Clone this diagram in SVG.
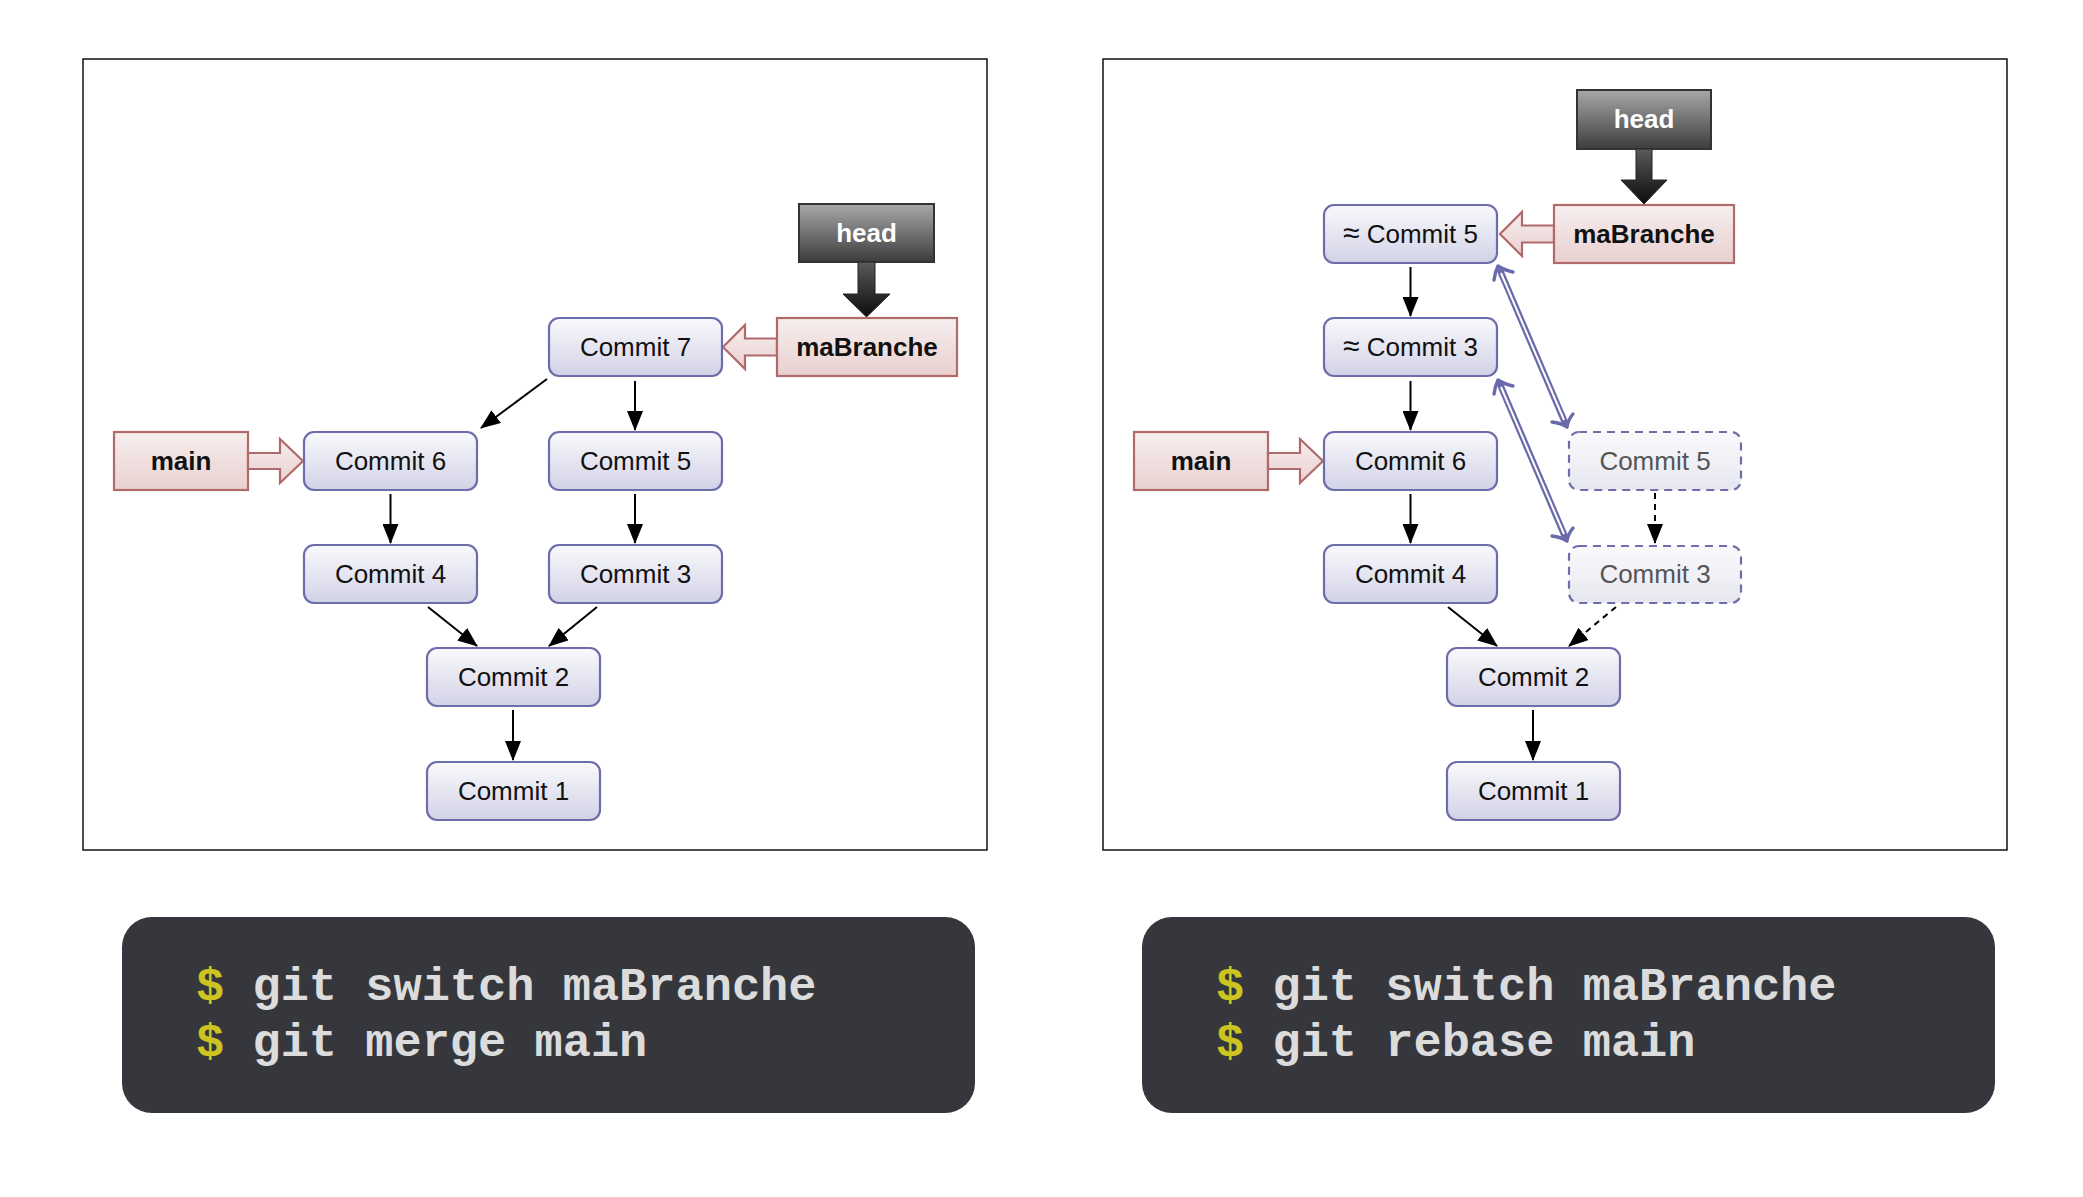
<svg xmlns="http://www.w3.org/2000/svg" width="2083" height="1197" viewBox="0 0 2083 1197">
<defs>
<linearGradient id="gCommit" x1="0" y1="0" x2="0" y2="1"><stop offset="0" stop-color="#f9f9fc"/><stop offset="1" stop-color="#d2d2e7"/></linearGradient>
<linearGradient id="gGhost" x1="0" y1="0" x2="0" y2="1"><stop offset="0" stop-color="#fafafc"/><stop offset="1" stop-color="#e6e6ef"/></linearGradient>
<linearGradient id="gBranch" x1="0" y1="0" x2="0" y2="1"><stop offset="0" stop-color="#f7eeee"/><stop offset="1" stop-color="#e9d0d0"/></linearGradient>
<linearGradient id="gHead" x1="0" y1="0" x2="0" y2="1"><stop offset="0" stop-color="#a8a8a8"/><stop offset="1" stop-color="#3c3c3c"/></linearGradient>
<linearGradient id="gHeadArrow" x1="0" y1="0" x2="0" y2="1"><stop offset="0" stop-color="#5a5a5a"/><stop offset="1" stop-color="#0c0c0c"/></linearGradient>
<marker id="arr" markerUnits="userSpaceOnUse" markerWidth="20" markerHeight="16" refX="19" refY="8" orient="auto"><path d="M0,0 L20,8 L0,16 z" fill="#000"/></marker>
<style>
.frame{fill:#fff;stroke:#000;stroke-width:1.4}
.commit{fill:url(#gCommit);stroke:#6d6dab;stroke-width:2.2}
.ghost{fill:url(#gGhost);stroke:#6d6dab;stroke-width:2.2;stroke-dasharray:8 6}
.branch{fill:url(#gBranch);stroke:#b06a6a;stroke-width:2.2}
.headbox{fill:url(#gHead);stroke:#333;stroke-width:2}
.harrow{fill:url(#gHeadArrow);stroke:#222;stroke-width:1}
.t{font-family:"Liberation Sans",Arial,sans-serif;font-size:26px;text-anchor:middle;fill:#111}
.tg{font-family:"Liberation Sans",Arial,sans-serif;font-size:26px;text-anchor:middle;fill:#555}
.tb{font-family:"Liberation Sans",Arial,sans-serif;font-size:26px;font-weight:bold;text-anchor:middle;fill:#111}
.th{font-family:"Liberation Sans",Arial,sans-serif;font-size:26px;font-weight:bold;text-anchor:middle;fill:#fff}
.approx{font-size:30px}
.edge{stroke:#000;stroke-width:2;fill:none;marker-end:url(#arr)}
.dash{stroke:#000;stroke-width:2;fill:none;stroke-dasharray:6 5;marker-end:url(#arr)}
.dblo{stroke:#6a6aaa;stroke-width:6.5;fill:none}
.dbli{stroke:#fff;stroke-width:2;fill:none}
.vh{stroke:#6a6aaa;stroke-width:3.4;fill:none;stroke-linecap:round;stroke-linejoin:round}
.code{fill:#35373c}
.cmd{font-family:"Liberation Mono","Courier New",monospace;font-size:47px;font-weight:bold;fill:#dcdcdc}
.dol{fill:#cdc422}
</style>
</defs>
<rect width="2083" height="1197" fill="#fff"/>
<rect class="frame" x="83" y="59" width="904" height="791"/>
<rect class="frame" x="1103" y="59" width="904" height="791"/>

<g id="connectors">
<line class="edge" x1="547" y1="379" x2="481" y2="428"/>
<line class="edge" x1="635" y1="381" x2="635" y2="430"/>
<line class="edge" x1="390.5" y1="494" x2="390.5" y2="543"/>
<line class="edge" x1="635" y1="494" x2="635" y2="543"/>
<line class="edge" x1="428" y1="607" x2="477" y2="646"/>
<line class="edge" x1="597" y1="607" x2="549" y2="646"/>
<line class="edge" x1="513" y1="710" x2="513" y2="760"/>
<line class="edge" x1="1410.5" y1="267" x2="1410.5" y2="316"/>
<line class="edge" x1="1410.5" y1="381" x2="1410.5" y2="430"/>
<line class="edge" x1="1410.5" y1="494" x2="1410.5" y2="543"/>
<line class="edge" x1="1448" y1="607" x2="1497" y2="646"/>
<line class="edge" x1="1533" y1="710" x2="1533" y2="760"/>
<line class="dash" x1="1655" y1="493" x2="1655" y2="543"/>
<line class="dash" x1="1616" y1="607" x2="1569" y2="646"/>
<g id="rebase-links">
<line class="dblo" x1="1499" y1="268" x2="1566" y2="425"/>
<line class="dbli" x1="1501" y1="273" x2="1564" y2="420"/>
<path class="vh" d="M1494,280 Q1495,272 1498,266 Q1504,270 1513,272"/>
<path class="vh" d="M1552,422 Q1561,423 1567,427 Q1568,420 1573,414"/>
<line class="dblo" x1="1499" y1="382" x2="1566" y2="539"/>
<line class="dbli" x1="1501" y1="387" x2="1564" y2="534"/>
<path class="vh" d="M1494,394 Q1495,386 1498,380 Q1504,384 1513,386"/>
<path class="vh" d="M1552,536 Q1561,537 1567,541 Q1568,534 1573,528"/>
</g>
</g>

<!-- Left diagram -->
<g id="head-left">
<rect class="headbox" x="799" y="204" width="135" height="58"/>
<text class="th" x="866.5" y="242">head</text>
<polygon class="harrow" points="858,262 875,262 875,294 890,294 866.5,317 843,294 858,294"/>
</g>
<g id="maBranche-left">
<polygon class="branch" points="777,338.5 745,338.5 745,325 723,347 745,369 745,355.5 777,355.5"/>
<rect class="branch" x="777" y="318" width="180" height="58"/>
<text class="tb" x="867" y="356">maBranche</text>
</g>
<g id="main-left">
<rect class="branch" x="114" y="432" width="134" height="58"/>
<polygon class="branch" points="248,453 280,453 280,439 303,461 280,483 280,469 248,469"/>
<text class="tb" x="181" y="470">main</text>
</g>
<g id="c7-left"><rect class="commit" x="549" y="318" width="173" height="58" rx="10"/><text class="t" x="635.5" y="356">Commit 7</text></g>
<g id="c6-left"><rect class="commit" x="304" y="432" width="173" height="58" rx="10"/><text class="t" x="390.5" y="470">Commit 6</text></g>
<g id="c5-left"><rect class="commit" x="549" y="432" width="173" height="58" rx="10"/><text class="t" x="635.5" y="470">Commit 5</text></g>
<g id="c4-left"><rect class="commit" x="304" y="545" width="173" height="58" rx="10"/><text class="t" x="390.5" y="583">Commit 4</text></g>
<g id="c3-left"><rect class="commit" x="549" y="545" width="173" height="58" rx="10"/><text class="t" x="635.5" y="583">Commit 3</text></g>
<g id="c2-left"><rect class="commit" x="427" y="648" width="173" height="58" rx="10"/><text class="t" x="513.5" y="686">Commit 2</text></g>
<g id="c1-left"><rect class="commit" x="427" y="762" width="173" height="58" rx="10"/><text class="t" x="513.5" y="800">Commit 1</text></g>

<!-- Right diagram -->
<g id="head-right">
<rect class="headbox" x="1577" y="90" width="134" height="59"/>
<text class="th" x="1644" y="128">head</text>
<polygon class="harrow" points="1636,149 1652,149 1652,180 1667,180 1644,204 1621,180 1636,180"/>
</g>
<g id="maBranche-right">
<polygon class="branch" points="1554,225.5 1522,225.5 1522,212 1500,234 1522,256 1522,242.5 1554,242.5"/>
<rect class="branch" x="1554" y="205" width="180" height="58"/>
<text class="tb" x="1644" y="243">maBranche</text>
</g>
<g id="main-right">
<rect class="branch" x="1134" y="432" width="134" height="58"/>
<polygon class="branch" points="1268,453 1300,453 1300,439 1323,461 1300,483 1300,469 1268,469"/>
<text class="tb" x="1201" y="470">main</text>
</g>
<g id="c5p-right"><rect class="commit" x="1324" y="205" width="173" height="58" rx="10"/><text class="t" x="1410.5" y="243"><tspan class="approx">≈</tspan> Commit 5</text></g>
<g id="c3p-right"><rect class="commit" x="1324" y="318" width="173" height="58" rx="10"/><text class="t" x="1410.5" y="356"><tspan class="approx">≈</tspan> Commit 3</text></g>
<g id="c6-right"><rect class="commit" x="1324" y="432" width="173" height="58" rx="10"/><text class="t" x="1410.5" y="470">Commit 6</text></g>
<g id="c4-right"><rect class="commit" x="1324" y="545" width="173" height="58" rx="10"/><text class="t" x="1410.5" y="583">Commit 4</text></g>
<g id="c5-ghost"><rect class="ghost" x="1569" y="432" width="172" height="58" rx="10"/><text class="tg" x="1655" y="470">Commit 5</text></g>
<g id="c3-ghost"><rect class="ghost" x="1569" y="546" width="172" height="57" rx="10"/><text class="tg" x="1655" y="583">Commit 3</text></g>
<g id="c2-right"><rect class="commit" x="1447" y="648" width="173" height="58" rx="10"/><text class="t" x="1533.5" y="686">Commit 2</text></g>
<g id="c1-right"><rect class="commit" x="1447" y="762" width="173" height="58" rx="10"/><text class="t" x="1533.5" y="800">Commit 1</text></g>

<!-- Command boxes -->
<g id="code-left">
<rect class="code" x="122" y="917" width="853" height="196" rx="30"/>
<text class="cmd" x="196" y="1000"><tspan class="dol">$</tspan> git switch maBranche</text>
<text class="cmd" x="196" y="1056"><tspan class="dol">$</tspan> git merge main</text>
</g>
<g id="code-right">
<rect class="code" x="1142" y="917" width="853" height="196" rx="30"/>
<text class="cmd" x="1216" y="1000"><tspan class="dol">$</tspan> git switch maBranche</text>
<text class="cmd" x="1216" y="1056"><tspan class="dol">$</tspan> git rebase main</text>
</g>
</svg>
